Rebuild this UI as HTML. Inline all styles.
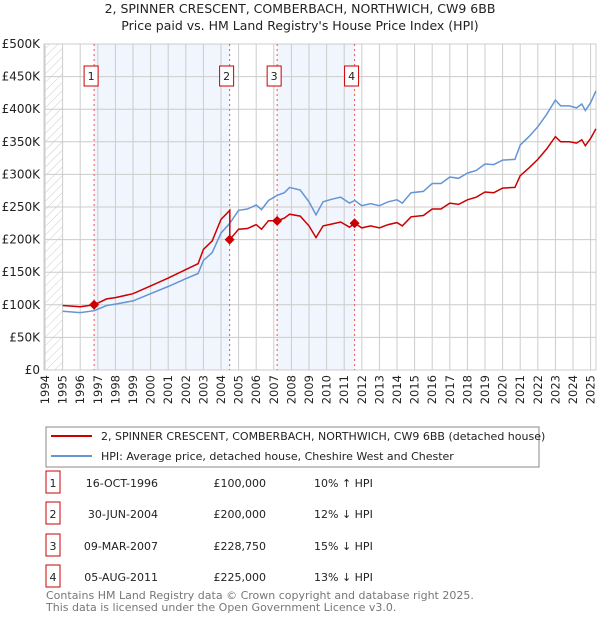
<!DOCTYPE html>
<html><head><meta charset="utf-8"><style>
body{margin:0;background:#fff;font-family:"DejaVu Sans","Liberation Sans",sans-serif;}
svg text{font-family:"DejaVu Sans","Liberation Sans",sans-serif;}
</style></head><body>
<svg id="c" width="600" height="620" xmlns="http://www.w3.org/2000/svg">
<defs><pattern id="hatch" width="6" height="6" patternUnits="userSpaceOnUse" patternTransform="rotate(45)"><line x1="0" y1="0" x2="0" y2="6" stroke="#ccc" stroke-width="1"/></pattern></defs>
<text x="300" y="13" text-anchor="middle" font-size="12.5" fill="#222">2, SPINNER CRESCENT, COMBERBACH, NORTHWICH, CW9 6BB</text>
<text x="300" y="30" text-anchor="middle" font-size="12.5" fill="#222">Price paid vs. HM Land Registry's House Price Index (HPI)</text>
<g id="plot"></g>
<rect x="46" y="427" width="493" height="40" fill="#fff" stroke="#888"/>
<line x1="51" y1="436" x2="92" y2="436" stroke="#cc0000" stroke-width="2"/>
<text x="101" y="440" font-size="11" fill="#222">2, SPINNER CRESCENT, COMBERBACH, NORTHWICH, CW9 6BB (detached house)</text>
<line x1="51" y1="456" x2="92" y2="456" stroke="#6495d6" stroke-width="2"/>
<text x="101" y="460" font-size="11" fill="#222">HPI: Average price, detached house, Cheshire West and Chester</text>
<g id="table"></g>
<text x="46" y="599" font-size="11" fill="#777">Contains HM Land Registry data © Crown copyright and database right 2025.</text>
<text x="46" y="611" font-size="11" fill="#777">This data is licensed under the Open Government Licence v3.0.</text>
</svg>
<script>
const hpiDates=[1995,1996,1996.8,1997.5,1998,1999,2000,2001,2002,2002.7,2003,2003.5,2004,2004.5,2005,2005.5,2006,2006.3,2006.7,2007.2,2007.6,2007.9,2008.5,2009,2009.4,2009.8,2010.3,2010.8,2011.3,2011.6,2012,2012.5,2013,2013.5,2014,2014.3,2014.8,2015.5,2016,2016.5,2017,2017.5,2018,2018.5,2019,2019.5,2020,2020.7,2021,2021.5,2022,2022.5,2023,2023.3,2023.8,2024.2,2024.5,2024.7,2025,2025.3];
const hpiValues=[90,88,91,99,101,106,117,128,140,148,168,180,210,225,245,247,253,246,260,268,272,280,276,258,238,258,262,265,256,260,252,255,252,258,261,256,272,274,286,286,296,294,302,306,316,315,322,323,345,358,373,392,414,405,405,402,408,398,410,428];
const propDates=[1995,1996,1996.8,1997.5,1998,1999,2000,2001,2002,2002.7,2003,2003.5,2004,2004.5,2004.5,2005,2005.5,2006,2006.3,2006.7,2007.2,2007.6,2007.9,2008.5,2009,2009.4,2009.8,2010.3,2010.8,2011.3,2011.6,2012,2012.5,2013,2013.5,2014,2014.3,2014.8,2015.5,2016,2016.5,2017,2017.5,2018,2018.5,2019,2019.5,2020,2020.7,2021,2021.5,2022,2022.5,2023,2023.3,2023.8,2024.2,2024.5,2024.7,2025,2025.3];
const propValues=[99,97,100,109,111,117,129,141,154,163,185,198,231,245,200,216,217,223,216,229,229,233,239,236,221,203,221,224,227,219,225,218,221,218,223,226,221,235,237,247,247,256,254,261,265,273,272,279,280,298,310,323,339,358,350,350,348,353,344,355,370];
const saleDates=[1996.79,2004.49,2007.19,2011.59];
const salePrices=[100,200,228.75,225];
const saleLabels=["1","2","3","4"];
const saleDateText=["16-OCT-1996","30-JUN-2004","09-MAR-2007","05-AUG-2011"];
const salePriceText=["£100,000","£200,000","£228,750","£225,000"];
const saleHpiText=["10% ↑ HPI","12% ↓ HPI","15% ↓ HPI","13% ↓ HPI"];
const yTicks=[0,50,100,150,200,250,300,350,400,450,500];
const yTickLabels=["£0","£50K","£100K","£150K","£200K","£250K","£300K","£350K","£400K","£450K","£500K"];
const xTicks=[1994,1995,1996,1997,1998,1999,2000,2001,2002,2003,2004,2005,2006,2007,2008,2009,2010,2011,2012,2013,2014,2015,2016,2017,2018,2019,2020,2021,2022,2023,2024,2025];

const L=44,R=596,T=44,B=370;
const X=y=>45+17.6*(y-1994);
const Y=v=>B-v/500*(B-T);
const NS="http://www.w3.org/2000/svg";
const plot=document.getElementById('plot');
function mk(tag,attrs,parent,txt){const e=document.createElementNS(NS,tag);for(const k in attrs)e.setAttribute(k,attrs[k]);if(txt!==undefined)e.textContent=txt;(parent||plot).appendChild(e);return e;}

let e;
e=mk('rect',{x:L,y:T,width:R-L,height:B-T,fill:'#fff'});


e=mk('rect',{x:L,y:T,width:X(1995)-L,height:B-T,fill:'url(#hatch)'});


for(let i=0;i<2;i++){
  const a=saleDates[i*2],b=saleDates[i*2+1];
  e=mk('rect',{x:X(a),y:T,width:X(b)-X(a),height:B-T,fill:'#eef3fc',opacity:0.8});
  
  
}
xTicks.forEach((t,i)=>{
  e=mk('line',{x1:X(t),x2:X(t),y1:T,y2:B,stroke:'#ccc','stroke-width':1});
  
  
  e=mk('text',{x:0,y:0,'font-size':11.5,fill:'#222','text-anchor':'end',transform:`translate(${X(t)+4},${B+5}) rotate(-90)`},plot,String(t));
  
  
});
yTicks.forEach((t,i)=>{
  e=mk('line',{x1:L,x2:R,y1:Y(t),y2:Y(t),stroke:'#ccc','stroke-width':1});
  
  
  e=mk('text',{x:L-4,y:Y(t)+4,'font-size':12,fill:'#222','text-anchor':'end'},plot,yTickLabels[i]);
  
  
});
e=mk('rect',{x:L,y:T,width:R-L,height:B-T,fill:'none',stroke:'#ccc'});


saleDates.forEach((d,i)=>{
  e=mk('line',{x1:X(d),x2:X(d),y1:T,y2:B,stroke:'#e55','stroke-width':1,'stroke-dasharray':'2,3'});
  
  
  const bx=X(d)-3;
  e=mk('rect',{x:bx-7,y:66,width:14,height:20,fill:'#fff',stroke:'#cc0000'});
  
  
  e=mk('text',{x:bx,y:80,'font-size':11,'text-anchor':'middle',fill:'#222'},plot,saleLabels[i]);
  
  
});
function path(ds,vs){return ds.map((d,i)=>(i?'L':'M')+X(d).toFixed(1)+','+Y(vs[i]).toFixed(1)).join('');}
e=mk('path',{d:path(hpiDates,hpiValues),fill:'none',stroke:'#6495d6','stroke-width':1.5});


e=mk('path',{d:path(propDates,propValues),fill:'none',stroke:'#cc0000','stroke-width':1.5});


saleDates.forEach((d,i)=>{
  const cx=X(d),cy=Y(salePrices[i]);
  e=mk('path',{d:`M${cx},${cy-5}L${cx+5},${cy}L${cx},${cy+5}L${cx-5},${cy}Z`,fill:'#cc0000'});
  
  
});
const tbl=document.getElementById('table');
const rowY=[483,514,546,577];
saleLabels.forEach((s,i)=>{
  const y=rowY[i];
  e=mk('rect',{x:46,y:y-12,width:14,height:22,fill:'#fff',stroke:'#cc0000'},tbl);
  
  
  e=mk('text',{x:53,y:y+4,'font-size':11,'text-anchor':'middle',fill:'#222'},tbl,s);
  
  
  e=mk('text',{x:158,y:y+4,'font-size':11,'text-anchor':'end',fill:'#222'},tbl,saleDateText[i]);
  
  
  e=mk('text',{x:266,y:y+4,'font-size':11,'text-anchor':'end',fill:'#222'},tbl,salePriceText[i]);
  
  
  e=mk('text',{x:314,y:y+4,'font-size':11,fill:'#222'},tbl,saleHpiText[i]);
  
  
});
</script>
</body></html>
